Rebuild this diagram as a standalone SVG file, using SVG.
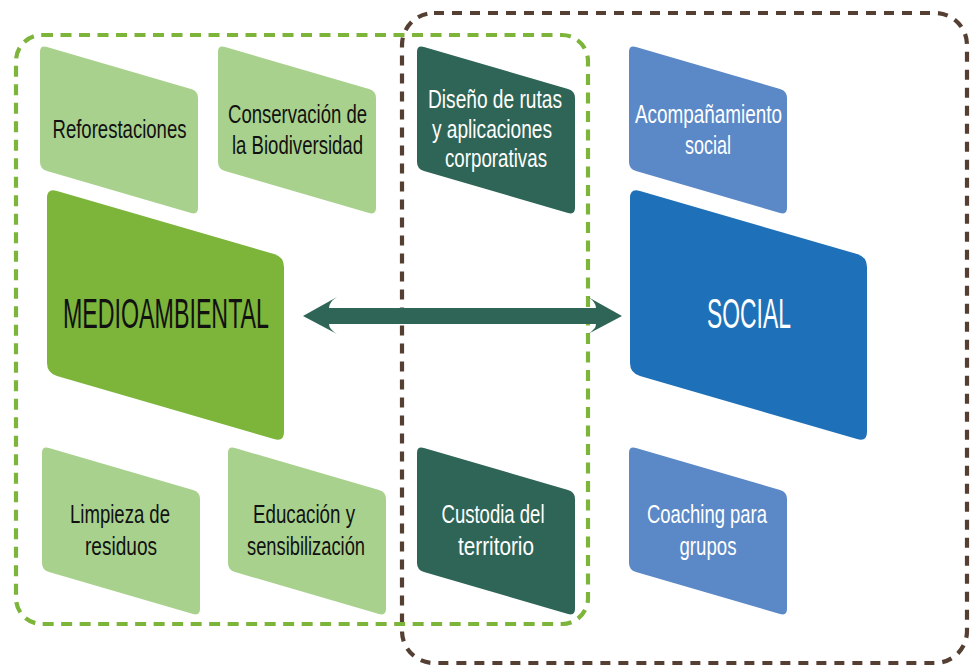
<svg xmlns="http://www.w3.org/2000/svg" width="970" height="667" viewBox="0 0 970 667">
<style>
.t{font-family:"Liberation Sans",Arial,sans-serif;font-size:25px;text-anchor:middle}
.big{font-family:"Liberation Sans",Arial,sans-serif;font-size:43px;text-anchor:middle}
.dk{fill:#111}
.wh{fill:#fff}
.lg{fill:#A9D18E}
.mg{fill:#7CB53A}
.dg{fill:#2F6556}
.bl{fill:#1E71B8}
.lb{fill:#5B88C6}
</style>
<defs>
<path id="sm" d="M0,7 Q0,0 7,2.04 L151,43.96 Q158,46 158,53 L158,163 Q158,170 151,167.96 L7,126.04 Q0,124 0,117 Z"/>
<path id="bg" d="M0,10 Q0,0 10,2.91 L227,66.09 Q237,69 237,79 L237,244 Q237,254 227,251.09 L10,187.91 Q0,185 0,175 Z"/>
</defs>
<g id="boundaries" fill="none" stroke-width="4.2">
<rect x="402" y="13" width="565" height="650" rx="32" stroke="#553F33" stroke-dasharray="10 8"/>
<rect x="16" y="35" width="572" height="589" rx="26" stroke="#7CB53A" stroke-dasharray="11 7.5"/>
</g>
<g id="n_reforestaciones"><use href="#sm" x="40" y="45" class="lg"/><text class="t dk" x="119.5" y="138" textLength="134" lengthAdjust="spacingAndGlyphs">Reforestaciones</text></g>
<g id="n_conservacion"><use href="#sm" x="218" y="45" class="lg"/><text class="t dk" x="297.5" y="123" textLength="139" lengthAdjust="spacingAndGlyphs">Conservación de</text><text class="t dk" x="297.5" y="154" textLength="131" lengthAdjust="spacingAndGlyphs">la Biodiversidad</text></g>
<g id="n_diseno"><use href="#sm" x="417" y="45" class="dg"/><text class="t wh" x="495" y="108" textLength="134" lengthAdjust="spacingAndGlyphs">Diseño de rutas</text><text class="t wh" x="492" y="138" textLength="120" lengthAdjust="spacingAndGlyphs">y aplicaciones</text><text class="t wh" x="496" y="167" textLength="102" lengthAdjust="spacingAndGlyphs">corporativas</text></g>
<g id="n_acompanamiento"><use href="#sm" x="629" y="45" class="lb"/><text class="t wh" x="708.5" y="123" textLength="147" lengthAdjust="spacingAndGlyphs">Acompañamiento</text><text class="t wh" x="708" y="154" textLength="46" lengthAdjust="spacingAndGlyphs">social</text></g>
<g id="n_medioambiental"><use href="#bg" x="47" y="188" class="mg"/><text class="big dk" x="166" y="328" textLength="206" lengthAdjust="spacingAndGlyphs">MEDIOAMBIENTAL</text></g>
<g id="n_social"><use href="#bg" x="630" y="188" class="bl"/><text class="big wh" x="749" y="328" textLength="84" lengthAdjust="spacingAndGlyphs">SOCIAL</text></g>
<g id="n_limpieza"><use href="#sm" x="42" y="446" class="lg"/><text class="t dk" x="120" y="523" textLength="100" lengthAdjust="spacingAndGlyphs">Limpieza de</text><text class="t dk" x="121" y="555" textLength="72" lengthAdjust="spacingAndGlyphs">residuos</text></g>
<g id="n_educacion"><use href="#sm" x="228" y="446" class="lg"/><text class="t dk" x="304" y="523" textLength="102" lengthAdjust="spacingAndGlyphs">Educación y</text><text class="t dk" x="306" y="555" textLength="118" lengthAdjust="spacingAndGlyphs">sensibilización</text></g>
<g id="n_custodia"><use href="#sm" x="417" y="446" class="dg"/><text class="t wh" x="493" y="523" textLength="103" lengthAdjust="spacingAndGlyphs">Custodia del</text><text class="t wh" x="496" y="555" textLength="76" lengthAdjust="spacingAndGlyphs">territorio</text></g>
<g id="n_coaching"><use href="#sm" x="629" y="446" class="lb"/><text class="t wh" x="707" y="523" textLength="120" lengthAdjust="spacingAndGlyphs">Coaching para</text><text class="t wh" x="708" y="555" textLength="57" lengthAdjust="spacingAndGlyphs">grupos</text></g>
<g id="connectors">
<path d="M303,316 L337,297 Q329,302 329,308 L596,308 Q596,302 588,297 L622,316 L588,334 Q596,329 596,324 L329,324 Q329,329 337,334 Z" fill="#2F6556"/>
</g>
</svg>
